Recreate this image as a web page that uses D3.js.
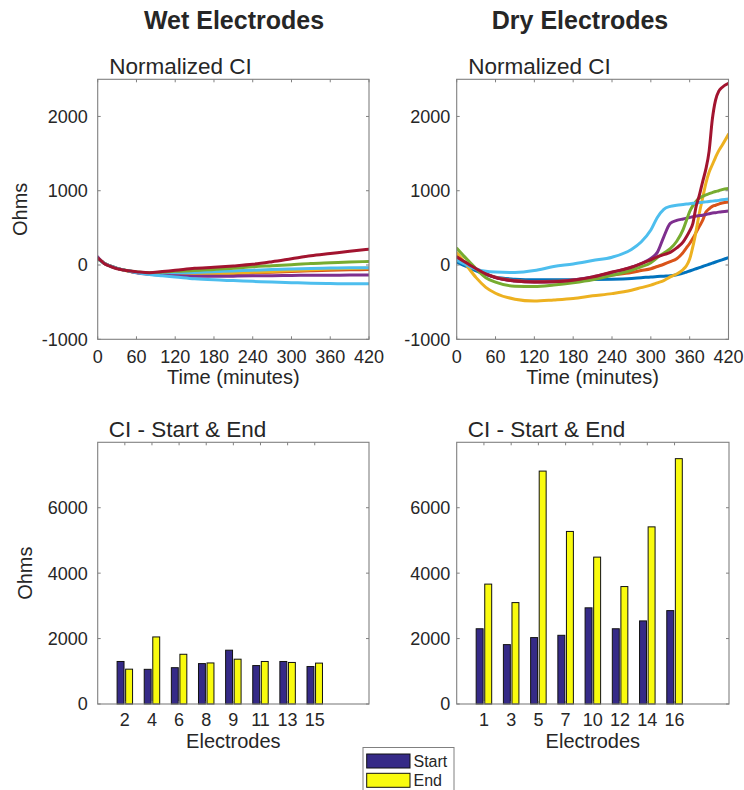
<!DOCTYPE html>
<html>
<head>
<meta charset="utf-8">
<script src="https://cdn.jsdelivr.net/npm/d3@7"></script>
<style>
  body { margin: 0; background: #fff; }
  svg { display: block; }
  text { font-family: "Liberation Sans", Arial, Helvetica, sans-serif; fill: #262626; }
</style>
</head>
<body>
<svg id="fig" width="744" height="790"></svg>
<script>
// ---- Normalized CI traces (Ohms vs minutes) ----
const wetTime = [0, 5, 10, 20, 30, 45, 60, 80, 100, 120, 150, 180, 210, 240, 270, 300, 330, 360, 390, 420];
const wetLightBlueLow = [85, 55, 25, -15, -45, -75, -100, -128, -145, -160, -185, -200, -210, -220, -230, -238, -245, -250, -252, -253];
const wetLightBlueMid = [90, 55, 25, -15, -45, -75, -98, -112, -112, -108, -100, -90, -80, -70, -60, -52, -46, -41, -37, -36];
const wetOrange = [95, 60, 25, -15, -45, -78, -102, -122, -132, -138, -134, -128, -118, -106, -96, -86, -78, -70, -65, -60];
const wetYellow = [90, 55, 25, -15, -45, -78, -100, -120, -130, -135, -130, -122, -112, -98, -88, -75, -65, -55, -47, -40];
const wetPurple = [110, 60, 25, -15, -45, -75, -105, -125, -138, -145, -150, -152, -150, -146, -143, -140, -138, -137, -136, -136];
const wetGreen = [80, 55, 25, -15, -45, -75, -95, -105, -95, -85, -75, -60, -45, -25, -10, 5, 20, 30, 40, 48];
const wetRed = [90, 60, 20, -20, -50, -75, -90, -105, -88, -72, -45, -30, -12, 10, 45, 85, 125, 155, 185, 213];

const dryTime = [0, 10, 20, 30, 45, 60, 90, 120, 150, 180, 210, 240, 270, 285, 300, 310, 320, 330, 340, 350, 355, 360, 365, 370, 375, 380, 385, 390, 395, 400, 405, 410, 420];
const dryBlue = [40, 0, -40, -80, -130, -165, -190, -200, -200, -198, -195, -190, -180, -172, -160, -155, -150, -145, -130, -110, -95, -80, -65, -50, -35, -20, -5, 10, 25, 40, 55, 70, 100];
const dryOrange = [110, 55, 0, -50, -120, -165, -210, -225, -220, -200, -170, -135, -100, -75, -50, -20, 10, 45, 85, 170, 230, 290, 360, 440, 520, 600, 710, 755, 790, 805, 820, 835, 848];
const dryYellow = [165, 60, -60, -170, -300, -380, -460, -485, -470, -450, -415, -385, -340, -305, -270, -240, -210, -160, -120, -60, -10, 80, 250, 460, 700, 900, 1100, 1250, 1350, 1450, 1540, 1610, 1760];
const dryPurple = [100, 50, 0, -50, -120, -170, -215, -230, -225, -200, -160, -100, -30, 20, 90, 170, 380, 560, 600, 620, 630, 640, 650, 660, 665, 670, 680, 690, 700, 705, 712, 718, 728];
const dryGreen = [225, 130, 40, -50, -170, -230, -285, -290, -270, -240, -200, -140, -70, -25, 30, 100, 160, 220, 320, 480, 600, 720, 800, 860, 900, 925, 945, 960, 975, 990, 1000, 1015, 1030];
const dryLightBlue = [70, 20, -20, -55, -85, -95, -100, -75, -20, 15, 60, 105, 210, 310, 470, 640, 750, 790, 805, 815, 820, 825, 830, 835, 840, 845, 850, 855, 860, 865, 870, 878, 890];
const dryRed = [110, 55, 0, -50, -120, -170, -215, -230, -225, -205, -160, -95, -30, 20, 70, 110, 140, 170, 230, 310, 380, 460, 560, 790, 940, 1120, 1290, 1530, 1960, 2220, 2340, 2390, 2445];

// ---- Contact impedance at start and end of recording ----
const wetElectrodes = ["2", "4", "6", "8", "9", "11", "13", "15"];
const wetStart = [1300, 1060, 1110, 1235, 1645, 1175, 1300, 1145];
const wetEnd = [1065, 2050, 1520, 1255, 1370, 1300, 1270, 1250];
const dryElectrodes = ["1", "3", "5", "7", "10", "12", "14", "16"];
const dryStart = [2300, 1815, 2030, 2100, 2940, 2300, 2540, 2855];
const dryEnd = [3665, 3100, 7120, 5275, 4490, 3590, 5415, 7500];

// ---- Tick definitions ----
const timeTicks = [0, 60, 120, 180, 240, 300, 360, 420];
const ciTicks = [-1000, 0, 1000, 2000];
const barTicks = [0, 2000, 4000, 6000];

// MATLAB default line colours
const C = {
  blue: "#0072BD", orange: "#D95319", yellow: "#EDB120", purple: "#7E2F8E",
  green: "#77AC30", lightBlue: "#4DBEEE", red: "#A2142F"
};
const startColor = "#352A87";
const endColor = "#F9FB0E";
const frameColor = "#808080";

const wetLines = [
  { v: wetOrange, c: C.orange }, { v: wetYellow, c: C.yellow },
  { v: wetLightBlueMid, c: C.lightBlue }, { v: wetPurple, c: C.purple },
  { v: wetGreen, c: C.green }, { v: wetLightBlueLow, c: C.lightBlue },
  { v: wetRed, c: C.red }
];
const dryLines = [
  { v: dryBlue, c: C.blue }, { v: dryOrange, c: C.orange },
  { v: dryYellow, c: C.yellow }, { v: dryPurple, c: C.purple },
  { v: dryGreen, c: C.green }, { v: dryLightBlue, c: C.lightBlue },
  { v: dryRed, c: C.red }
];

const svg = d3.select("#fig");
const TICK_LEN = 3;
const TICK_FONT = 18;
const LABEL_FONT = 20;

function axesBox(g, b) {
  g.append("rect").attr("x", b.x0).attr("y", b.y0)
    .attr("width", b.x1 - b.x0).attr("height", b.y1 - b.y0)
    .attr("fill", "none").attr("stroke", frameColor).attr("stroke-width", 1.1);
}

function ticks(g, b, x, y, xVals, yVals, xLabels, opts) {
  const t = g.append("g").attr("stroke", frameColor).attr("stroke-width", 1);
  xVals.forEach(v => {
    t.append("line").attr("x1", x(v)).attr("x2", x(v)).attr("y1", b.y1).attr("y2", b.y1 - TICK_LEN);
    t.append("line").attr("x1", x(v)).attr("x2", x(v)).attr("y1", b.y0).attr("y2", b.y0 + TICK_LEN);
  });
  yVals.forEach(v => {
    t.append("line").attr("x1", b.x0).attr("x2", b.x0 + TICK_LEN).attr("y1", y(v)).attr("y2", y(v));
    t.append("line").attr("x1", b.x1).attr("x2", b.x1 - TICK_LEN).attr("y1", y(v)).attr("y2", y(v));
  });
  g.selectAll(null).data(xVals).join("text")
    .attr("x", d => x(d)).attr("y", b.y1 + opts.xLabelOffset)
    .attr("text-anchor", "middle").attr("font-size", TICK_FONT)
    .text((d, i) => xLabels[i]);
  g.selectAll(null).data(yVals).join("text")
    .attr("x", b.x0 - opts.yGap).attr("y", d => y(d)).attr("dy", "0.36em")
    .attr("text-anchor", "end").attr("font-size", TICK_FONT)
    .text(d => d);
}

function linePanel(b, time, lines, gap, withYLabel, id) {
  const g = svg.append("g");
  const x = d3.scaleLinear().domain([0, 420]).range([b.x0, b.x1]);
  const y = d3.scaleLinear().domain([-1000, 2500]).range([b.y1, b.y0]);
  g.append("clipPath").attr("id", id).append("rect")
    .attr("x", b.x0).attr("y", b.y0).attr("width", b.x1 - b.x0).attr("height", b.y1 - b.y0);
  const line = d3.line().x(d => x(d[0])).y(d => y(d[1])).curve(d3.curveMonotoneX);
  const lg = g.append("g").attr("clip-path", `url(#${id})`);
  lines.forEach(s => {
    lg.append("path").attr("d", line(time.map((t, i) => [t, s.v[i]])))
      .attr("fill", "none").attr("stroke", s.c).attr("stroke-width", 3)
      .attr("stroke-linejoin", "round").attr("stroke-linecap", "round");
  });
  axesBox(g, b);
  ticks(g, b, x, y, timeTicks, ciTicks, timeTicks.map(String), { xLabelOffset: 23.5, yGap: gap });
  g.append("text").attr("x", (b.x0 + b.x1) / 2).attr("y", 384)
    .attr("text-anchor", "middle").attr("font-size", LABEL_FONT).text("Time (minutes)");
  g.append("text").attr("x", b.x0 + 11.5).attr("y", 74)
    .attr("font-size", 22.5).text("Normalized CI");
  if (withYLabel) {
    g.append("text").attr("transform", `translate(27,${(b.y0 + b.y1) / 2}) rotate(-90)`)
      .attr("text-anchor", "middle").attr("font-size", LABEL_FONT).text("Ohms");
  }
}

function barPanel(b, labels, startVals, endVals, gap, withYLabel) {
  const g = svg.append("g");
  const x = d3.scaleLinear().domain([0, 10]).range([b.x0, b.x1]);
  const y = d3.scaleLinear().domain([0, 8000]).range([b.y1, b.y0]);
  const pos = labels.map((_, i) => i + 1);
  const bw = 0.255;
  const bg = g.append("g").attr("stroke", "#111").attr("stroke-width", 1);
  pos.forEach((p, i) => {
    bg.append("rect").attr("x", x(p - 0.285)).attr("width", x(bw) - x(0))
      .attr("y", y(startVals[i])).attr("height", y(0) - y(startVals[i])).attr("fill", startColor);
    bg.append("rect").attr("x", x(p + 0.03)).attr("width", x(bw) - x(0))
      .attr("y", y(endVals[i])).attr("height", y(0) - y(endVals[i])).attr("fill", endColor);
  });
  axesBox(g, b);
  ticks(g, b, x, y, pos, barTicks, labels, { xLabelOffset: 21.5, yGap: gap });
  g.append("text").attr("x", (b.x0 + b.x1) / 2).attr("y", 747.5)
    .attr("text-anchor", "middle").attr("font-size", LABEL_FONT).text("Electrodes");
  g.append("text").attr("x", b.x0 + 11).attr("y", 437.3)
    .attr("font-size", 22.5).text("CI - Start & End");
  if (withYLabel) {
    g.append("text").attr("transform", `translate(32,${(b.y0 + b.y1) / 2}) rotate(-90)`)
      .attr("text-anchor", "middle").attr("font-size", LABEL_FONT).text("Ohms");
  }
}

// Column headings
svg.append("text").attr("x", 234).attr("y", 29).attr("text-anchor", "middle")
  .attr("font-size", 25).attr("font-weight", "bold").attr("fill", "#000").text("Wet Electrodes");
svg.append("text").attr("x", 580).attr("y", 29).attr("text-anchor", "middle")
  .attr("font-size", 25).attr("font-weight", "bold").attr("fill", "#000").text("Dry Electrodes");

linePanel({ x0: 97.7, x1: 369, y0: 79.3, y1: 339.3 }, wetTime, wetLines, 10, true, "clipWet");
linePanel({ x0: 456.7, x1: 728.5, y0: 79.3, y1: 339.3 }, dryTime, dryLines, 6.5, false, "clipDry");
barPanel({ x0: 97.7, x1: 369, y0: 442.3, y1: 704 }, wetElectrodes, wetStart, wetEnd, 10, true);
barPanel({ x0: 456.7, x1: 729, y0: 442.3, y1: 704 }, dryElectrodes, dryStart, dryEnd, 6.5, false);

// Legend
const leg = svg.append("g");
leg.append("rect").attr("x", 363).attr("y", 747.5).attr("width", 91).attr("height", 60)
  .attr("fill", "#fff").attr("stroke", frameColor).attr("stroke-width", 1);
[["Start", startColor], ["End", endColor]].forEach(([label, col], i) => {
  const yy = 754 + i * 19.3;
  leg.append("rect").attr("x", 366.7).attr("y", yy).attr("width", 43.3).attr("height", 14)
    .attr("fill", col).attr("stroke", "#111").attr("stroke-width", 1);
  leg.append("text").attr("x", 413.5).attr("y", yy + 12.8).attr("font-size", 16).text(label);
});
</script>
</body>
</html>
